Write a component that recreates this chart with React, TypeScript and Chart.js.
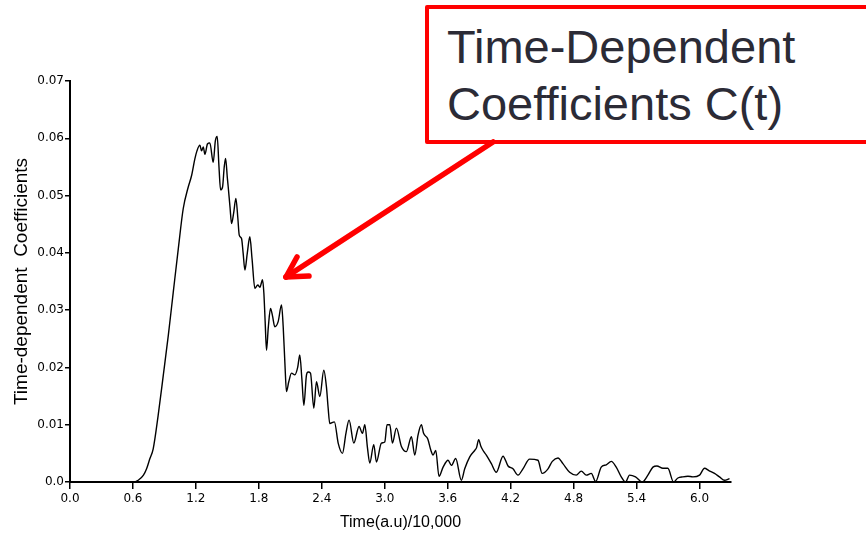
import React, { useEffect, useRef } from "react";
import { Chart, registerables } from "chart.js";

Chart.register(...registerables);

// ---- data ----
const timeValues = [
  0, 0.3, 0.6, 0.65, 0.7, 0.73, 0.76, 0.793, 0.84, 0.889, 0.937, 0.984, 1.032, 1.079, 1.127, 1.159,
  1.19, 1.21, 1.238, 1.254, 1.27, 1.286, 1.31, 1.333, 1.365, 1.385, 1.403, 1.42, 1.435, 1.454, 1.47,
  1.483, 1.5, 1.508, 1.525, 1.54, 1.56, 1.581, 1.6, 1.613, 1.635, 1.65, 1.667, 1.69, 1.714, 1.735,
  1.762, 1.79, 1.81, 1.835, 1.848, 1.86, 1.873, 1.89, 1.911, 1.93, 1.952, 1.984, 2.016, 2.032, 2.05,
  2.063, 2.085, 2.111, 2.143, 2.17, 2.19, 2.21, 2.229, 2.254, 2.27, 2.292, 2.324, 2.349, 2.381, 2.419,
  2.444, 2.46, 2.476, 2.52, 2.556, 2.597, 2.63, 2.66, 2.705, 2.755, 2.787, 2.81, 2.835, 2.857, 2.895,
  2.921, 2.968, 3.0, 3.022, 3.048, 3.073, 3.111, 3.159, 3.206, 3.254, 3.286, 3.317, 3.349, 3.37, 3.41,
  3.44, 3.46, 3.486, 3.517, 3.556, 3.603, 3.635, 3.676, 3.73, 3.762, 3.81, 3.857, 3.875, 3.895, 3.915,
  3.937, 3.968, 4.016, 4.063, 4.127, 4.175, 4.222, 4.27, 4.317, 4.381, 4.46, 4.5, 4.556, 4.597, 4.651,
  4.698, 4.762, 4.825, 4.873, 4.921, 4.968, 5.01, 5.063, 5.111, 5.159, 5.206, 5.254, 5.295, 5.333,
  5.39, 5.454, 5.508, 5.556, 5.594, 5.651, 5.698, 5.752, 5.794, 5.841, 5.889, 5.937, 6.0, 6.048,
  6.089, 6.143, 6.19, 6.238, 6.286,
];

const coefficientValues = [
  0, 0, 0, 0.0003, 0.0012, 0.0023, 0.004, 0.0058, 0.0116, 0.0186, 0.0256, 0.0331, 0.0407, 0.0477,
  0.0515, 0.0535, 0.0564, 0.0578, 0.0588, 0.0578, 0.0585, 0.0572, 0.059, 0.0592, 0.0558, 0.0595,
  0.0603, 0.055, 0.051, 0.0515, 0.055, 0.0565, 0.053, 0.0515, 0.048, 0.0451, 0.047, 0.0495, 0.046,
  0.0431, 0.0425, 0.04, 0.037, 0.04, 0.0428, 0.039, 0.0338, 0.0344, 0.034, 0.0353, 0.0329, 0.028,
  0.023, 0.027, 0.0303, 0.029, 0.0271, 0.028, 0.0309, 0.0271, 0.02, 0.0158, 0.0175, 0.019, 0.0187,
  0.02, 0.0222, 0.018, 0.0134, 0.0187, 0.0192, 0.019, 0.0129, 0.0175, 0.0149, 0.0195, 0.0166, 0.013,
  0.0102, 0.0105, 0.0068, 0.005, 0.0085, 0.0108, 0.0068, 0.0097, 0.0085, 0.01, 0.006, 0.0033, 0.0065,
  0.0035, 0.0068, 0.007, 0.01, 0.01, 0.0068, 0.0094, 0.0062, 0.0053, 0.0079, 0.0047, 0.0082, 0.01,
  0.0085, 0.0075, 0.0055, 0.0047, 0.0055, 0.001, 0.0026, 0.0038, 0.0029, 0.0041, 0.0003, 0.0023,
  0.0044, 0.0055, 0.006, 0.0074, 0.0063, 0.0055, 0.0047, 0.0032, 0.0017, 0.0045, 0.0028, 0.0023,
  0.0012, 0.0023, 0.004, 0.0038, 0.0015, 0.0023, 0.0036, 0.0042, 0.0032, 0.0017, 0.0012, 0.0019,
  0.0012, 0.0015, 0.0001, 0.0026, 0.003, 0.0036, 0.0026, 0.0009, 0, 0.0012, 0.0009, 0, 0.0012, 0.0026,
  0.0028, 0.0024, 0.0024, 0, 0.0007, 0.0009, 0.001, 0.0009, 0.0012, 0.0024, 0.002, 0.0015, 0.0009,
  0.0003, 0.0006,
];

const xTickValues = [0, 0.6, 1.2, 1.8, 2.4, 3.0, 3.6, 4.2, 4.8, 5.4, 6.0];
const xTickLabels = ["0.0", "0.6", "1.2", "1.8", "2.4", "3.0", "3.6", "4.2", "4.8", "5.4", "6.0"];
const yTickValues = [0, 0.01, 0.02, 0.03, 0.04, 0.05, 0.06, 0.07];
const yTickLabels = ["0.0", "0.01", "0.02", "0.03", "0.04", "0.05", "0.06", "0.07"];
const xAxisTitle = "Time(a.u)/10,000";
const yAxisTitle = "Time-dependent  Coefficients";
const calloutLines = ["Time-Dependent", "Coefficients C(t)"];

const tickFont = { family: "'DejaVu Sans', sans-serif", size: 12 };

export default function App() {
  const canvasRef = useRef<HTMLCanvasElement | null>(null);

  useEffect(() => {
    const canvas = canvasRef.current;
    if (!canvas) return;
    const chart = new Chart(canvas, {
      type: "line",
      data: {
        datasets: [
          {
            data: timeValues.map((t, i) => ({ x: t, y: coefficientValues[i] })),
            borderColor: "#000000",
            borderWidth: 1.4,
            pointRadius: 0,
            cubicInterpolationMode: "monotone",
            fill: false,
          },
        ],
      },
      options: {
        animation: false,
        responsive: false,
        maintainAspectRatio: false,
        layout: { padding: { left: 0, top: 81, right: 135, bottom: 0 } },
        plugins: { legend: { display: false }, tooltip: { enabled: false } },
        scales: {
          x: {
            type: "linear",
            min: 0,
            max: 6.3,
            afterBuildTicks: (s: any) => {
              s.ticks = xTickValues.map((v) => ({ value: v }));
            },
            afterFit: (s: any) => {
              s.height = 58;
            },
            ticks: {
              autoSkip: false,
              maxRotation: 0,
              padding: 3,
              color: "#000",
              font: tickFont,
              callback: (_v: any, i: number) => xTickLabels[i],
            },
            grid: { drawOnChartArea: false, drawTicks: true, tickLength: 7, color: "#000", lineWidth: 1.5 },
            border: { display: true, color: "#000", width: 2 },
            title: {
              display: true,
              text: xAxisTitle,
              color: "#000",
              font: { family: "'Liberation Sans', Arial, sans-serif", size: 16 },
              padding: { top: 0, bottom: 8 },
            },
          },
          y: {
            type: "linear",
            min: 0,
            max: 0.07,
            afterBuildTicks: (s: any) => {
              s.ticks = yTickValues.map((v) => ({ value: v }));
            },
            afterFit: (s: any) => {
              s.width = 70;
            },
            ticks: {
              autoSkip: false,
              padding: 1,
              color: "#000",
              font: tickFont,
              callback: (_v: any, i: number) => yTickLabels[i],
            },
            grid: { drawOnChartArea: false, drawTicks: true, tickLength: 5, color: "#000", lineWidth: 1.5 },
            border: { display: true, color: "#000", width: 2 },
            title: {
              display: true,
              text: yAxisTitle,
              color: "#000",
              font: { family: "'Liberation Sans', Arial, sans-serif", size: 19 },
              padding: { top: 10, bottom: 0 },
            },
          },
        },
      },
    } as any);
    return () => chart.destroy();
  }, []);

  return (
    <div
      style={{
        position: "absolute",
        left: 0,
        top: 0,
        width: 866,
        height: 540,
        overflow: "hidden",
        background: "#fff",
      }}
    >
      <canvas ref={canvasRef} width={866} height={540} style={{ position: "absolute", left: 0, top: 0 }} />
      <div
        style={{
          position: "absolute",
          left: 425,
          top: 5,
          width: 470,
          height: 139,
          boxSizing: "border-box",
          border: "4px solid #ff0000",
          borderRadius: 2,
          background: "#fff",
          padding: "9px 0 0 18px",
          fontFamily: "'Liberation Sans', Arial, sans-serif",
          fontSize: 47,
          lineHeight: "57px",
          color: "#2b2b36",
          whiteSpace: "nowrap",
        }}
      >
        {calloutLines.map((l) => (
          <div key={l}>{l}</div>
        ))}
      </div>
      <svg
        width={866}
        height={540}
        style={{ position: "absolute", left: 0, top: 0, pointerEvents: "none" }}
      >
        <g stroke="#ff0000" strokeWidth={5.5} strokeLinecap="round" fill="none">
          <line x1={493} y1={142} x2={286} y2={277} />
          <line x1={286} y1={277} x2={309} y2={276} />
          <line x1={286} y1={277} x2={297} y2={257} />
        </g>
      </svg>
    </div>
  );
}
